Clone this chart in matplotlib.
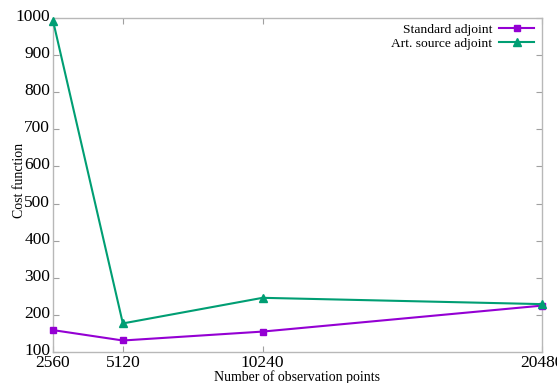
import matplotlib
matplotlib.use("Agg")
import matplotlib.pyplot as plt
import matplotlib.transforms as mtransforms

obs_points = [2560, 5120, 10240, 20480]
x_tick_labels = ["2560", "5120", "10240", "20480"]
standard_adjoint = [159, 131, 155, 225]
art_source_adjoint = [993, 177, 246, 229]
y_ticks = [100, 200, 300, 400, 500, 600, 700, 800, 900, 1000]

plt.rcParams['font.family'] = ['Liberation Serif', 'DejaVu Serif']

fig = plt.figure(figsize=(5.57, 3.83), dpi=100)
ax = fig.add_axes([53/557, 31/383, (542-53)/557, (352-18)/383])

ax.plot(obs_points, standard_adjoint, color='#9400d3', lw=1.5, marker='s',
        markersize=5, label='Standard adjoint', clip_on=False, zorder=3)
ax.plot(obs_points, art_source_adjoint, color='#009e73', lw=1.5, marker='^',
        markersize=6, label='Art. source adjoint', clip_on=False, zorder=3)

ax.set_xlim(2560, 20480)
ax.set_ylim(100, 1000)
ax.set_xticks(obs_points)
ax.set_xticklabels(x_tick_labels)
ax.set_yticks(y_ticks)

for s in ax.spines.values():
    s.set_color('#b8b8b8')
    s.set_linewidth(1.0)
ax.tick_params(direction='in', length=4, width=0.8, color='#a0a0a0',
               top=True, right=True, labelsize=12.5, pad=2, labelcolor='black')

offset = mtransforms.ScaledTranslation(0, 3/100, fig.dpi_scale_trans)
for lbl in ax.get_yticklabels():
    lbl.set_transform(lbl.get_transform() + offset)

ax.set_xlabel('Number of observation points', fontsize=10, labelpad=-0.5)
ax.set_ylabel('Cost function', fontsize=10)
ax.yaxis.set_label_coords(-0.055, 0.515)

ax.legend(loc='upper right', frameon=False, markerfirst=False, fontsize=9.7,
          handlelength=2.6, handletextpad=0.5, labelspacing=0.12,
          borderaxespad=0.0, bbox_to_anchor=(0.995, 1.0))

fig.savefig('out.png', dpi=100)
